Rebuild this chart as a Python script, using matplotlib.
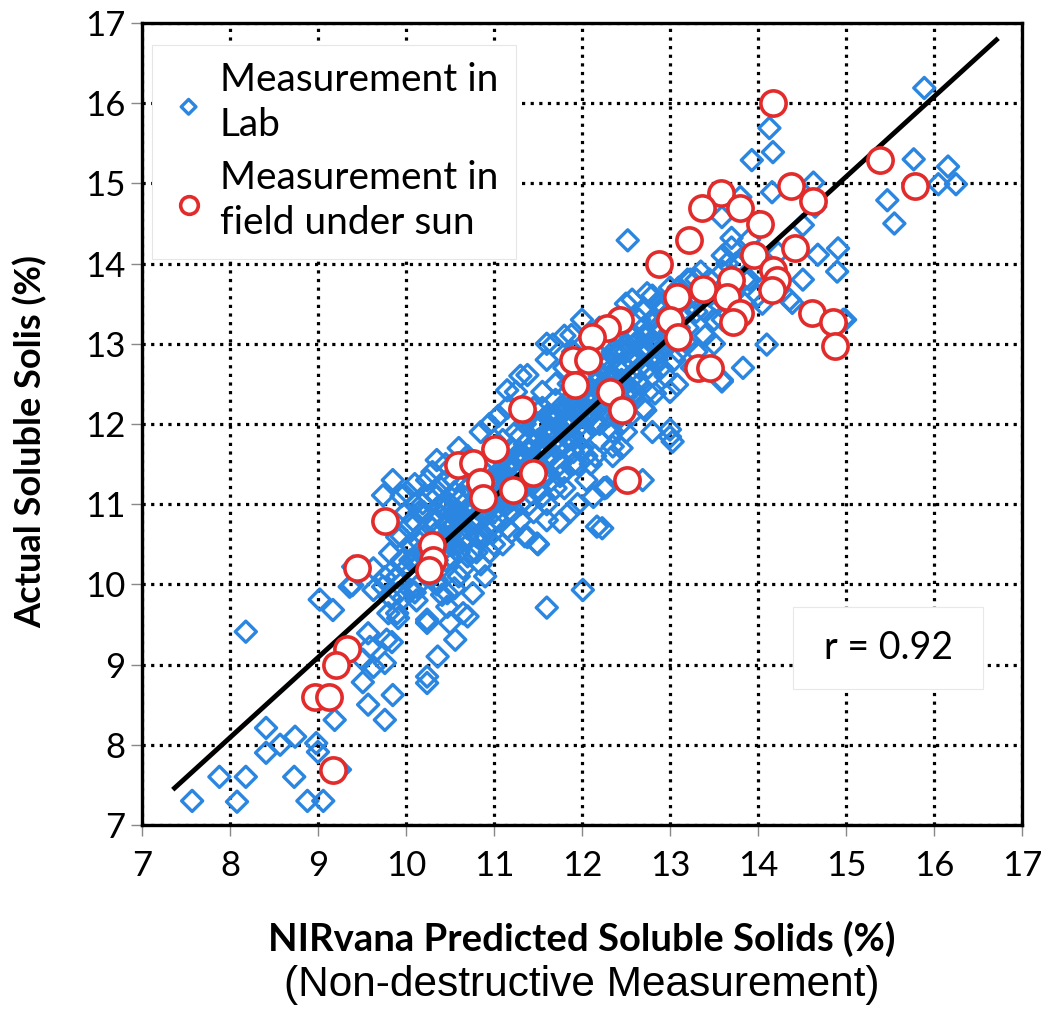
import numpy as np
import matplotlib.pyplot as plt
from matplotlib.patches import Rectangle

# 实验室测量 (NIRvana 预测值, 实测值)
lab_x = [7.57, 7.88, 8.08, 8.18, 8.18, 8.41, 8.41, 8.57, 8.74, 8.73, 8.88, 8.98, 9.00, 9.06, 9.25,
         9.19, 9.02, 9.17, 9.39, 9.57, 9.59, 9.51, 9.51, 9.78, 9.63, 9.57, 9.76, 9.85, 9.84, 9.76,
         10.24, 10.36, 10.24, 10.24, 10.50, 10.56, 10.12, 9.80, 9.40, 9.76, 9.97, 9.91, 9.63, 9.82,
         9.36, 9.63, 9.82, 9.74, 9.90, 9.90, 9.85, 9.74, 10.01, 10.08, 10.24, 10.35, 10.47, 10.30,
         10.39, 10.19, 10.16, 10.05, 9.82, 9.91, 10.05, 9.90, 10.12, 10.24, 10.41, 10.47, 10.35,
         12.17, 12.01, 11.60, 11.49, 11.38, 11.60, 11.75, 11.86, 12.35, 12.28, 12.13, 10.47, 10.76,
         10.65, 10.24,
         12.45, 12.80, 13.00, 13.03, 12.69, 12.26, 12.23, 13.08, 13.59, 12.72, 12.58, 12.83,
         14.13, 14.17, 13.93, 14.16, 14.63, 14.65, 14.51, 14.68, 14.91, 14.90, 14.51, 14.36, 13.70,
         13.59, 13.80, 13.65, 14.23, 15.47, 15.55,
         15.89, 15.77, 16.16, 16.05, 16.25, 14.97, 14.39, 14.99, 14.10, 13.83, 13.59, 13.00,
         12.52, 11.67, 11.88, 11.38, 12.57, 12.74, 13.23, 11.15,
         9.90, 9.95, 10.00, 10.00, 10.05, 10.10, 10.10, 10.15, 9.95, 10.10,
         10.20, 10.20, 10.25, 10.30, 10.30, 10.35, 10.35, 10.40, 10.40, 10.45, 10.45, 10.30,
         10.50, 10.50, 10.55, 10.55, 10.60, 10.60, 10.65, 10.65, 10.70, 10.70, 10.70, 10.75, 10.60,
         10.80, 10.80, 10.85, 10.85, 10.90, 10.90, 10.90, 10.95, 11.00, 11.00, 11.00, 11.05, 11.05, 10.95,
         11.10, 11.10, 11.15, 11.15, 11.20, 11.20, 11.25, 11.25, 11.30, 11.30, 11.35, 11.35, 11.30,
         11.40, 11.40, 11.45, 11.45, 11.50, 11.50, 11.55, 11.55, 11.60, 11.60, 11.65, 11.65, 11.50, 11.60,
         11.70, 11.70, 11.75, 11.75, 11.80, 11.80, 11.85, 11.85, 11.90, 11.90, 11.95, 11.95, 11.80,
         12.00, 12.00, 12.05, 12.05, 12.10, 12.10, 12.15, 12.15, 12.20, 12.20, 12.25, 12.25, 12.00,
         12.30, 12.30, 12.35, 12.35, 12.40, 12.40, 12.45, 12.50, 12.50, 12.50, 12.45,
         12.60, 12.60, 12.65, 12.70, 12.70, 12.75, 12.80, 12.80, 12.85,
         12.90, 12.90, 12.95, 13.00, 13.00, 13.05, 13.10, 13.10,
         13.20, 13.20, 13.25, 13.30, 13.35, 13.40, 13.45, 13.50, 13.30,
         13.60, 13.60, 13.65, 13.70, 13.75, 13.80, 13.85, 13.90, 13.95, 14.00, 14.05, 14.10,
         10.15, 10.35, 10.55, 10.75, 10.95, 11.15, 11.35, 11.55, 11.75, 11.95, 12.15, 12.35]
lab_y = [7.30, 7.60, 7.29, 9.41, 7.60, 8.21, 7.90, 8.00, 8.10, 7.60, 7.30, 8.02, 7.91, 7.30, 7.69,
         8.31, 9.81, 9.68, 9.99, 9.39, 9.22, 9.06, 8.78, 9.31, 8.97, 8.50, 8.31, 8.62, 9.28, 9.02,
         9.52, 9.10, 8.85, 8.77, 9.52, 9.31, 9.97, 9.64, 10.22, 10.09, 9.83, 9.58, 9.93, 9.84,
         9.97, 10.20, 10.39, 9.97, 10.09, 10.59, 11.30, 11.11, 11.15, 10.80, 11.30, 11.55, 11.30, 11.14,
         10.97, 11.01, 10.52, 10.30, 10.14, 9.89, 9.93, 9.64, 9.80, 9.53, 9.87, 9.72, 10.05,
         10.72, 9.93, 9.71, 10.51, 10.59, 10.80, 10.78, 10.90, 11.72, 11.21, 11.09, 9.89, 9.89,
         9.64, 9.56,
         11.70, 11.90, 11.93, 11.78, 11.30, 11.20, 10.70, 12.49, 12.53, 12.17, 12.36, 12.38,
         15.69, 15.39, 15.29, 14.89, 15.01, 14.71, 14.48, 14.11, 14.19, 13.90, 13.80, 13.55, 14.32,
         14.58, 14.83, 14.00, 14.13, 14.79, 14.50,
         16.19, 15.30, 15.21, 14.99, 14.99, 13.30, 13.51, 13.30, 12.99, 12.70, 12.55, 11.84,
         14.29, 12.99, 13.11, 12.61, 13.55, 13.63, 13.80, 12.42,
         10.10, 10.60, 10.90, 10.20, 10.50, 11.00, 9.90, 10.40, 11.10, 11.25,
         10.60, 10.90, 10.20, 11.40, 10.70, 10.00, 11.10, 10.50, 10.85, 11.50, 10.30, 10.10,
         10.60, 11.00, 11.30, 9.95, 10.40, 10.80, 11.10, 10.20, 11.60, 10.60, 9.60, 11.00, 11.70,
         10.40, 10.80, 11.20, 11.90, 10.10, 10.60, 11.50, 11.00, 10.50, 11.30, 11.80, 12.10, 10.80, 12.00,
         11.10, 11.60, 10.70, 12.20, 11.40, 10.90, 11.90, 12.40, 11.00, 11.60, 12.00, 10.60, 12.60,
         11.30, 11.80, 12.20, 10.90, 11.50, 12.00, 11.10, 12.40, 11.70, 12.80, 11.30, 12.10, 10.50, 13.00,
         11.90, 12.50, 11.50, 12.20, 11.20, 12.70, 11.80, 12.30, 11.50, 12.90, 12.10, 11.00, 13.10,
         12.40, 11.70, 12.80, 11.30, 12.10, 13.10, 11.60, 12.50, 12.00, 13.20, 12.70, 11.20, 13.30,
         12.30, 13.00, 11.90, 12.60, 13.30, 12.20, 12.90, 11.90, 12.50, 13.50, 12.00,
         12.40, 13.10, 12.80, 13.40, 12.20, 12.90, 13.60, 12.60, 13.20,
         12.70, 13.50, 13.00, 13.70, 12.40, 13.30, 12.90, 13.50,
         13.20, 13.80, 12.70, 13.40, 13.90, 13.10, 13.60, 13.30, 13.60,
         13.90, 14.10, 13.40, 14.20, 13.70, 14.00, 13.50, 13.80, 14.10, 13.60, 13.50, 14.00,
         10.25, 10.45, 10.75, 10.95, 11.15, 11.35, 11.55, 11.75, 11.95, 12.15, 12.35, 12.55]

# 实验室测量中密集的核心区域
core_x = [10.30, 10.40, 10.45, 10.50, 10.55, 10.60, 10.65, 10.70, 10.75, 10.80, 10.85, 10.90,
          10.95, 11.00, 11.05, 11.10, 11.10, 11.15, 11.20, 11.20, 11.25, 11.30, 11.30, 11.35,
          11.40, 11.40, 11.45, 11.50, 11.50, 11.55, 11.60, 11.60, 11.65, 11.70, 11.70, 11.75,
          11.80, 11.80, 11.85, 11.90, 11.90, 11.95, 12.00, 12.00, 12.05, 12.10, 12.10, 12.15,
          12.20, 12.20, 12.25, 12.30, 12.30, 12.35, 12.40, 12.40, 12.45, 12.50, 12.55, 12.55,
          12.60, 12.65, 12.70, 12.75, 12.80, 12.85, 12.90, 12.95, 13.00, 13.05, 13.10, 13.15,
          13.20, 13.25, 13.30, 13.40, 13.45, 13.50, 13.55, 13.60, 13.70, 13.75, 13.80, 13.85,
          13.90, 14.00,
          9.95, 10.05, 10.10, 10.15, 10.20, 10.25, 10.30, 10.35, 10.40, 10.45, 10.50, 10.55,
          10.60, 10.65, 10.70, 10.75, 10.80, 10.85, 10.90, 10.95, 11.00, 11.05, 11.10, 11.15,
          11.20, 11.25, 11.30, 11.35, 11.40, 11.45, 11.50, 11.55, 11.60, 11.65, 11.70, 11.75,
          11.80, 11.85, 11.90, 11.95, 12.00, 12.05, 12.10, 12.15, 12.20, 12.25, 12.30, 12.35,
          12.40, 12.45, 12.50, 12.55, 12.60, 12.65, 12.70, 12.75, 12.80, 12.85, 12.90, 12.95,
          13.00, 13.05,
          10.35, 10.40, 10.45, 10.50, 10.55, 10.60, 10.65, 10.70, 10.75, 10.80, 10.85, 10.90,
          10.95, 11.00, 11.05, 11.10, 11.15, 11.20, 11.25, 11.30, 11.35, 11.40, 11.45, 11.50,
          11.55, 11.60, 11.65, 11.70, 11.75, 11.80, 11.85, 11.90, 11.95, 12.00, 12.05, 12.10,
          12.15, 12.20, 12.25, 12.30, 12.35, 12.40, 12.45, 12.50, 12.55, 12.60, 12.65, 12.70,
          12.75, 12.80, 12.85, 12.90, 13.00, 13.10, 13.20, 13.30,
          11.00, 11.10, 11.20, 11.30, 11.40, 11.50, 11.60, 11.70, 11.80, 11.90, 12.00, 12.10,
          12.20, 12.30, 12.40, 12.50, 10.50, 10.60, 10.70, 10.80, 10.90, 10.45]
core_y = [10.55, 10.20, 10.75, 10.35, 10.90, 10.10, 10.55, 11.20, 10.40, 10.95, 10.25, 10.85,
          11.30, 10.75, 11.10, 10.50, 11.35, 11.00, 11.70, 10.65, 11.20, 11.85, 10.80, 11.40,
          12.10, 11.00, 11.55, 11.20, 11.80, 12.20, 11.40, 11.00, 11.85, 12.30, 11.20, 11.70,
          12.00, 11.40, 12.50, 11.80, 12.20, 11.50, 12.00, 12.60, 11.90, 12.40, 11.50, 12.90,
          12.20, 11.80, 12.50, 12.10, 12.80, 11.60, 12.50, 12.90, 12.30, 12.70, 12.10, 13.10,
          12.60, 13.30, 12.90, 12.40, 13.00, 13.50, 13.20, 12.60, 13.00, 12.80, 13.20, 13.60,
          13.00, 13.50, 12.90, 13.40, 13.80, 13.00, 13.60, 13.30, 13.60, 14.00, 13.30, 13.80,
          14.30, 13.90,
          10.30, 10.75, 10.30, 10.90, 10.35, 11.10, 10.80, 10.30, 11.20, 10.60, 10.90, 10.50,
          11.05, 11.45, 10.35, 10.80, 11.35, 10.60, 11.20, 10.40, 11.55, 11.05, 11.80, 11.45,
          11.05, 11.60, 11.25, 11.75, 11.50, 12.00, 11.65, 11.35, 12.10, 11.60, 12.05, 11.35,
          11.75, 12.20, 12.00, 12.45, 12.20, 11.60, 12.25, 12.00, 12.60, 12.30, 11.95, 12.45,
          12.70, 12.55, 12.90, 12.45, 12.85, 12.50, 13.10, 12.70, 12.80, 13.00, 12.90, 13.30,
          13.15, 13.45,
          10.65, 10.95, 10.45, 10.70, 11.15, 10.65, 10.85, 10.90, 11.15, 10.60, 11.00, 10.95,
          11.15, 11.00, 11.35, 11.15, 11.25, 11.30, 11.45, 11.40, 11.55, 11.65, 11.75, 11.45,
          11.70, 11.85, 11.95, 11.80, 11.95, 12.20, 12.00, 12.35, 12.25, 12.40, 12.35, 12.60,
          12.30, 12.40, 12.75, 12.55, 12.90, 12.30, 12.75, 13.00, 12.80, 13.00, 12.70, 13.20,
          13.10, 13.30, 12.80, 13.40, 13.40, 13.70, 13.40, 13.80,
          10.90, 11.00, 11.50, 11.60, 11.25, 11.95, 11.55, 12.10, 11.90, 11.65, 11.85, 12.15,
          12.45, 12.65, 12.10, 12.35, 10.50, 10.90, 10.70, 11.10, 10.70, 10.95]

# 田间阳光下测量
field_x = [14.17, 15.39, 15.78, 14.38, 14.63, 13.58, 13.36, 13.80, 14.02, 13.22, 12.88, 14.42,
           13.95, 14.17, 14.22, 14.16, 13.69, 13.65, 13.38, 13.80, 13.72, 13.08, 13.00, 13.09,
           14.61, 14.85, 14.88, 13.32, 13.45, 12.43, 12.28, 12.11, 11.90, 12.07, 11.92, 12.32,
           12.45, 12.51, 11.32, 11.01, 10.59, 10.76, 10.84, 10.88, 11.22, 11.44, 9.76, 10.30,
           10.31, 10.26, 9.44, 9.33, 9.20, 8.97, 9.13, 9.17]
field_y = [16.00, 15.29, 14.97, 14.97, 14.78, 14.88, 14.69, 14.69, 14.49, 14.29, 14.00, 14.19,
           14.11, 13.92, 13.80, 13.67, 13.80, 13.58, 13.68, 13.38, 13.27, 13.58, 13.30, 13.08,
           13.38, 13.27, 12.97, 12.70, 12.70, 13.30, 13.20, 13.08, 12.80, 12.80, 12.49, 12.40,
           12.17, 11.30, 12.19, 11.69, 11.49, 11.51, 11.28, 11.08, 11.18, 11.39, 10.79, 10.49,
           10.30, 10.18, 10.20, 9.19, 9.00, 8.60, 8.60, 7.69]

# 拟合线端点
fit_x = [7.35, 16.73]
fit_y = [7.44, 16.81]

ticks = list(range(7, 18))
r_text = 'r = 0.92'

blue = '#2A86E0'
red = '#E22B2B'
cn = 'Lato'

fig = plt.figure(figsize=(10.54, 10.09), dpi=100)
ax = fig.add_axes([0.1347, 0.1824, 0.8349, 0.7948])

ax.scatter(lab_x + core_x, lab_y + core_y, marker='D', s=115, facecolors='none',
           edgecolors=blue, linewidths=2.4, zorder=3, label='Measurement in\nLab')
ax.plot(fit_x, fit_y, color='black', lw=3.5, zorder=4, solid_capstyle='butt')
ax.scatter(field_x, field_y, marker='o', s=330, facecolors='white', edgecolors=red,
           linewidths=2.6, zorder=5, label='Measurement in\nfield under sun')

ax.set_xlim(7, 17)
ax.set_ylim(7, 17)
ax.set_xticks(ticks)
ax.set_yticks(ticks)
ax.set_xticklabels([str(t) for t in ticks], fontfamily=cn, fontsize=25)
ax.set_yticklabels([str(t) for t in ticks], fontfamily=cn, fontsize=25)
ax.tick_params(direction='out', length=8, width=1, color='#888888')
ax.tick_params(axis='x', pad=10)
ax.tick_params(axis='y', pad=4)
ax.grid(True, color='black', linestyle=(0, (1, 1.7)), linewidth=2.3, zorder=1)
ax.set_axisbelow(True)
for sp in ax.spines.values():
    sp.set_linewidth(2.4)
    sp.set_color('black')

leg = ax.legend(loc='upper left', bbox_to_anchor=(0.011, 0.973), borderaxespad=0,
                prop={'family': cn, 'size': 28}, fancybox=False, framealpha=1,
                edgecolor='#e6e6e6', handletextpad=0.3, labelspacing=0.45,
                markerscale=0.7, handlelength=1.0, borderpad=0.45)
leg.get_frame().set_linewidth(0.8)
for t in leg.get_texts():
    t.set_linespacing(1.3)

# r 值文本框
ax.add_patch(Rectangle((0.740, 0.170), 0.216, 0.102, transform=ax.transAxes,
                       facecolor='white', edgecolor='#e8e8e8', lw=0.8, zorder=6))
ax.text(0.848, 0.221, r_text, transform=ax.transAxes, ha='center', va='center',
        fontfamily=cn, fontsize=27, zorder=7)

fig.text(0.552, 0.069, 'NIRvana Predicted Soluble Solids (%)', ha='center', va='center',
         fontfamily=cn, fontweight='bold', fontsize=27.5)
fig.text(0.552, 0.024, '(Non-destructive Measurement)', ha='center', va='center',
         fontfamily='Liberation Sans', fontsize=30.5)
fig.text(0.029, 0.562, 'Actual Soluble Solis (%)', ha='center', va='center', rotation=90,
         fontfamily=cn, fontweight='bold', fontsize=26)

fig.savefig('out.png', dpi=100)
